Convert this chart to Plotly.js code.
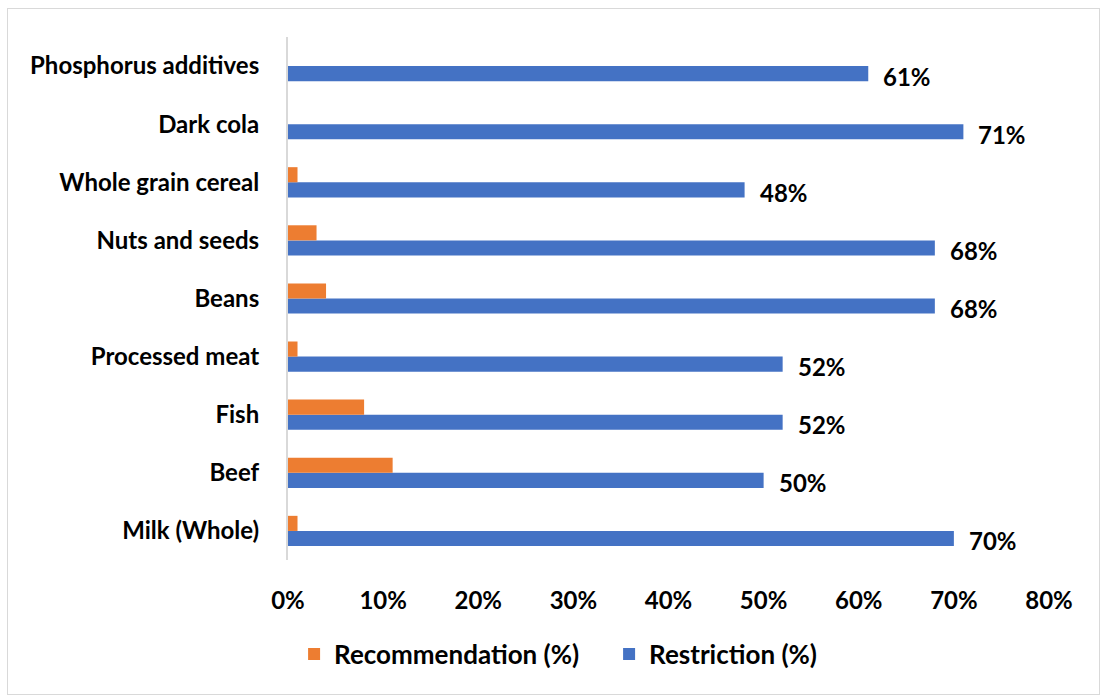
<!DOCTYPE html>
<html>
<head>
<meta charset="utf-8">
<script src="https://cdn.plot.ly/plotly-3.0.1.min.js"></script>
<style>
  html, body { margin: 0; padding: 0; background: #fff; }
  #chart { width: 1102px; height: 698px; }
  #frame { position: absolute; left: 7px; top: 8px; width: 1091px; height: 685px;
           border: 1.5px solid #d9d9d9; pointer-events: none; }
</style>
</head>
<body>
<div id="chart"></div>
<div id="frame"></div>
<script>
// Food items, listed bottom to top
const foods = ["Milk (Whole)", "Beef", "Fish", "Processed meat", "Beans",
               "Nuts and seeds", "Whole grain cereal", "Dark cola", "Phosphorus additives"];
const recommendation = [1, 11, 8, 1, 4, 3, 1, 0, 0];
const restriction = [70, 50, 52, 52, 68, 68, 48, 71, 61];
const xTicks = [0, 10, 20, 30, 40, 50, 60, 70, 80];

const FONT = "Lato, 'Open Sans', sans-serif";
const SIZE = 24;

const traces = [
  {
    type: "bar", orientation: "h", name: "Restriction (%)",
    y: foods, x: restriction,
    marker: { color: "#4472C4" },
    hoverinfo: "skip"
  },
  {
    type: "bar", orientation: "h", name: "Recommendation (%)",
    y: foods, x: recommendation,
    marker: { color: "#ED7D31" },
    hoverinfo: "skip"
  }
];

// Value labels next to the restriction bars
const labels = foods.map((f, i) => ({
  x: restriction[i], y: f, xref: "x", yref: "y",
  text: restriction[i] + "%", showarrow: false,
  xanchor: "left", yanchor: "middle", xshift: 13, yshift: -10,
  font: { family: FONT, size: SIZE, color: "#000", weight: 700 }
}));

const layout = {
  width: 1102, height: 698,
  margin: { l: 288, r: 53, t: 37, b: 138 },
  paper_bgcolor: "#fff", plot_bgcolor: "#fff",
  barmode: "group", bargap: 0.48, bargroupgap: 0,
  showlegend: true,
  legend: {
    orientation: "h", traceorder: "reversed",
    x: 0.008, xanchor: "left", y: -0.18, yanchor: "middle",
    font: { family: FONT, size: 26, color: "#000", weight: 700 },
    itemwidth: 30, entrywidth: 270
  },
  xaxis: {
    range: [0, 80], tickvals: xTicks, ticktext: xTicks.map(v => v + "%"),
    showgrid: false, zeroline: false, showline: false, ticks: "",
    ticklabelstandoff: 24,
    tickfont: { family: FONT, size: SIZE, color: "#000", weight: 700 },
    fixedrange: true
  },
  yaxis: {
    type: "category", categoryorder: "array", categoryarray: foods,
    showgrid: false, zeroline: false, showline: true,
    linecolor: "#d9d9d9", linewidth: 2, ticks: "",
    ticklabelstandoff: 22,
    tickfont: { family: FONT, size: SIZE, color: "#000", weight: 700 },
    fixedrange: true
  },
  annotations: labels
};

Plotly.newPlot("chart", traces, layout, { displayModeBar: false, staticPlot: true });
</script>
</body>
</html>
